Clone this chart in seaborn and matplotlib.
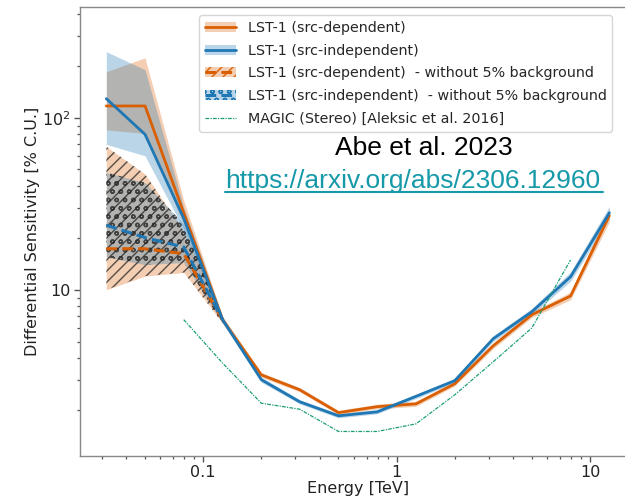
import numpy as np
import pandas as pd
import matplotlib
matplotlib.use("Agg")
import matplotlib.pyplot as plt
import seaborn as sns
from matplotlib.patches import Patch
from matplotlib.lines import Line2D
from matplotlib.ticker import NullFormatter

# ---------------- data ----------------
energy = [0.0316, 0.0501, 0.0794, 0.126, 0.2, 0.316, 0.501, 0.794, 1.26, 2.0, 3.16, 5.01, 7.94, 12.6]

dep = [117, 117, 28, 6.7, 3.2, 2.62, 1.93, 2.09, 2.17, 2.84, 4.72, 7.16, 9.2, 27]
dep_lo = [85, 81, 24, 6.4, 3.1, 2.55, 1.88, 2.03, 2.1, 2.76, 4.55, 6.9, 8.75, 24.8]
dep_hi = [185, 223, 33, 7.0, 3.3, 2.7, 1.99, 2.16, 2.25, 2.93, 4.9, 7.45, 9.7, 29.5]

indep = [129, 80, 26, 6.7, 3.0, 2.23, 1.85, 1.95, 2.4, 2.96, 5.19, 7.45, 11.9, 28]
indep_lo = [70, 60, 22.5, 6.4, 2.9, 2.17, 1.8, 1.9, 2.33, 2.88, 5.0, 7.15, 11.2, 26]
indep_hi = [242, 190, 30, 7.0, 3.1, 2.3, 1.9, 2.01, 2.47, 3.05, 5.4, 7.8, 12.7, 30.5]

energy_nobkg = [0.0316, 0.0501, 0.0794, 0.126]
dep_nobkg = [17.3, 17.3, 16.2, 6.7]
dep_nobkg_lo = [10, 12, 12.6, 6.4]
dep_nobkg_hi = [68, 47, 22, 7.0]
indep_nobkg = [23.7, 20.1, 17.7, 6.7]
indep_nobkg_lo = [15.5, 14, 14.4, 6.4]
indep_nobkg_hi = [48, 42, 24, 7.0]

magic_energy = [0.0794, 0.126, 0.2, 0.316, 0.501, 0.794, 1.26, 2.0, 3.16, 5.01, 7.94]
magic = [6.7, 3.75, 2.19, 2.02, 1.5, 1.5, 1.66, 2.45, 3.81, 6.0, 14.9]

labels = [
    "LST-1 (src-dependent)",
    "LST-1 (src-independent)",
    "LST-1 (src-dependent)  - without 5% background",
    "LST-1 (src-independent)  - without 5% background",
    "MAGIC (Stereo) [Aleksic et al. 2016]",
]

# ---------------- style ----------------
sns.set_style("ticks")
plt.rcParams["font.family"] = ["DejaVu Sans"]
plt.rcParams["hatch.linewidth"] = 1.0

C_OR = "#d95f02"
C_BL = "#1f77b4"
C_MG = "#1b9e77"
C_URL = "#1699a8"

fig = plt.figure(figsize=(6.25, 5.01), dpi=100)
ax = fig.add_axes([0.128, 0.0898, 0.8896, 0.8962])
ax.set_xscale("log")
ax.set_yscale("log")

# solid bands
ax.fill_between(energy, dep_lo, dep_hi, color=C_OR, alpha=0.3, lw=0, zorder=1)
ax.fill_between(energy, indep_lo, indep_hi, color=C_BL, alpha=0.3, lw=0, zorder=1.1)

# hatched bands (without background)
ax.fill_between(energy_nobkg, dep_nobkg_lo, dep_nobkg_hi, facecolor=C_OR, alpha=0.3, lw=0, zorder=1.2)
ax.fill_between(energy_nobkg, indep_nobkg_lo, indep_nobkg_hi, facecolor=C_BL, alpha=0.3, lw=0, zorder=1.3)
ax.fill_between(energy_nobkg, dep_nobkg_lo, dep_nobkg_hi, facecolor="none", edgecolor="#222222",
                hatch="///", lw=0, alpha=0.75, zorder=1.4)
ax.fill_between(energy_nobkg, indep_nobkg_lo, indep_nobkg_hi, facecolor="none", edgecolor="#222222",
                hatch="oo", lw=0, alpha=0.75, zorder=1.5)

# lines
sns.lineplot(x=energy_nobkg, y=dep_nobkg, ax=ax, color=C_OR, lw=2.2, linestyle=(0, (3.5, 1.7)), zorder=2)
sns.lineplot(x=energy_nobkg, y=indep_nobkg, ax=ax, color=C_BL, lw=2.2, linestyle=(0, (3.5, 1.7)), zorder=2.1)
sns.lineplot(x=energy, y=dep, ax=ax, color=C_OR, lw=2.0, zorder=3)
sns.lineplot(x=energy, y=indep, ax=ax, color=C_BL, lw=2.0, zorder=3.1)
sns.lineplot(x=magic_energy, y=magic, ax=ax, color=C_MG, lw=0.9, linestyle=(0, (3, 1, 1, 1)), zorder=3.2)

# axes
ax.set_xlim(0.0231, 17.3)
ax.set_ylim(1.08, 440)
ax.set_xticks([0.1, 1, 10])
ax.set_xticklabels(["0.1", "1", "10"])
ax.set_yticks([10, 100])
ax.set_yticklabels(["10", r"$\mathdefault{10^{2}}$"])
ax.xaxis.set_minor_formatter(NullFormatter())
ax.yaxis.set_minor_formatter(NullFormatter())
ax.tick_params(which="major", length=4, width=1, color="#555555", labelsize=11.5, labelcolor="#222222", pad=2.5)
ax.tick_params(which="minor", length=2.5, width=0.9, color="#555555")
for s in ax.spines.values():
    s.set_color("#888888")
    s.set_linewidth(1.0)
ax.set_xlabel("Energy [TeV]", fontsize=11.5, color="#222222", labelpad=0.5)
ax.set_ylabel("Differential Sensitivity [% C.U.]", fontsize=11.5, color="#222222", labelpad=2)

# legend
h1 = (Patch(facecolor=C_OR, alpha=0.3, lw=0), Line2D([], [], color=C_OR, lw=2.0))
h2 = (Patch(facecolor=C_BL, alpha=0.3, lw=0), Line2D([], [], color=C_BL, lw=2.0))
h3 = (Patch(facecolor=C_OR, alpha=0.3, lw=0),
      Patch(facecolor="none", edgecolor=C_OR, hatch="///", lw=0),
      Line2D([], [], color=C_OR, lw=2.2, linestyle=(0, (3.5, 1.7))))
h4 = (Patch(facecolor=C_BL, alpha=0.3, lw=0),
      Patch(facecolor="none", edgecolor=C_BL, hatch="oo", lw=0),
      Line2D([], [], color=C_BL, lw=2.2, linestyle=(0, (3.5, 1.7))))
h5 = Line2D([], [], color=C_MG, lw=0.9, linestyle=(0, (3, 1, 1, 1)))
leg = ax.legend([h1, h2, h3, h4, h5], labels, loc="upper left",
                bbox_to_anchor=(199 / 625, 1 - 15 / 501), bbox_transform=fig.transFigure,
                borderaxespad=0, fontsize=10.3, frameon=True, fancybox=True, framealpha=0.8,
                edgecolor="#cccccc", handlelength=2.2, labelspacing=0.62)

# annotation text
fig.text(335 / 625, 1 - 155 / 501, "Abe et al. 2023", fontsize=19, family=["Liberation Sans"],
         color="black", va="baseline", ha="left")
fig.text(225 / 625, 1 - 188 / 501, "https://arxiv.org/abs/2306.12960", fontsize=19,
         family=["Liberation Sans"], color=C_URL, va="baseline", ha="left")
fig.add_artist(Line2D([225 / 625, 603 / 625], [1 - 192 / 501, 1 - 192 / 501], color=C_URL, lw=1.5,
                      transform=fig.transFigure))

fig.savefig("out.png", dpi=100)
